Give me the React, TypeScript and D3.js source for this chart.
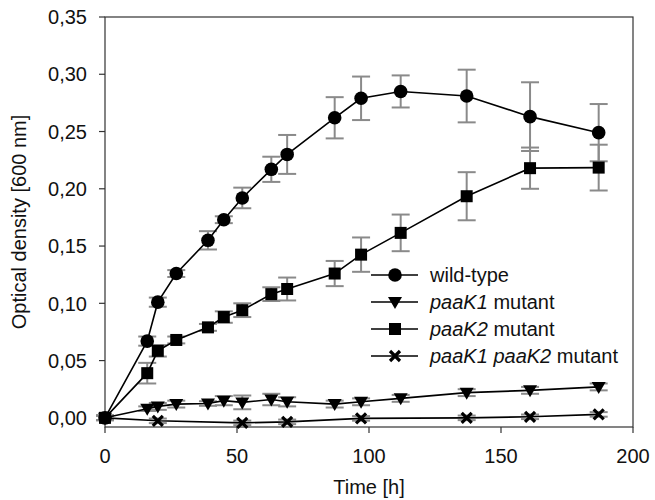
import React from 'react';
import * as d3 from 'd3';

// sampling times [h]
const times = [0, 16, 20, 27, 39, 45, 52, 63, 69, 87, 97, 112, 137, 161, 187];
const timesDouble = [0, 20, 52, 69, 97, 137, 161, 187];

const wildType = [0, 0.067, 0.101, 0.126, 0.155, 0.173, 0.192, 0.217, 0.230, 0.262, 0.279, 0.285, 0.281, 0.263, 0.249];
const wildTypeErr = [0.002, 0.004, 0.004, 0.003, 0.008, 0.003, 0.009, 0.011, 0.017, 0.018, 0.019, 0.014, 0.023, 0.030, 0.025];

const paaK1 = [0, 0.008, 0.010, 0.012, 0.0125, 0.015, 0.0135, 0.016, 0.014, 0.012, 0.014, 0.017, 0.022, 0.024, 0.027];
const paaK1Err = [0.002, 0.002, 0.003, 0.003, 0.002, 0.004, 0.006, 0.005, 0.004, 0.003, 0.003, 0.003, 0.003, 0.003, 0.003];

const paaK2 = [0, 0.039, 0.0585, 0.068, 0.079, 0.088, 0.094, 0.108, 0.1125, 0.126, 0.1425, 0.1615, 0.1935, 0.218, 0.2185];
const paaK2Err = [0.002, 0.009, 0.005, 0.003, 0.003, 0.005, 0.006, 0.006, 0.010, 0.011, 0.015, 0.016, 0.021, 0.018, 0.020];

const paaK1K2 = [0, -0.0026, -0.0044, -0.0035, -0.0005, 0.0, 0.0009, 0.003];
const paaK1K2Err = [0.002, 0.002, 0.002, 0.002, 0.002, 0.002, 0.002, 0.002];

const xTicks = [0, 50, 100, 150, 200];
const yTicks = [0, 0.05, 0.1, 0.15, 0.2, 0.25, 0.3, 0.35];

const FONT = 'Liberation Sans, Arial, sans-serif';
const GREY = '#8a8a8a';

const locale = d3.formatLocale({decimal: ',', thousands: '.', grouping: [3], currency: ['', '']});
const fmtY = locale.format('.2f');

function Marker({kind, x, y}: {kind: string; x: number; y: number}) {
  if (kind === 'circle') return <circle cx={x} cy={y} r={6.8} fill="#000" />;
  if (kind === 'square') return <rect x={x - 6} y={y - 6} width={12} height={12} fill="#000" />;
  if (kind === 'triangle')
    return <path d={`M${x - 7},${y - 5} L${x + 7},${y - 5} L${x},${y + 7} Z`} fill="#000" />;
  // cross
  return (
    <g stroke="#000" strokeWidth={3.2}>
      <line x1={x - 5} y1={y - 5} x2={x + 5} y2={y + 5} />
      <line x1={x - 5} y1={y + 5} x2={x + 5} y2={y - 5} />
    </g>
  );
}

export default function App() {
  const left = 105, right = 633, top = 17, bottom = 427;

  const x = d3.scaleLinear().domain([0, 200]).range([left, right]);
  const y = d3.scaleLinear().domain([-0.008, 0.35]).range([bottom, top]);

  const series = [
    {name: 'wild-type', kind: 'circle', t: times, v: wildType, e: wildTypeErr},
    {name: 'paaK1', kind: 'triangle', t: times, v: paaK1, e: paaK1Err},
    {name: 'paaK2', kind: 'square', t: times, v: paaK2, e: paaK2Err},
    {name: 'paaK1K2', kind: 'cross', t: timesDouble, v: paaK1K2, e: paaK1K2Err},
  ];

  const line = d3.line<number[]>().x(d => x(d[0])).y(d => y(d[1]));

  const legendRows = [
    {kind: 'circle', label: [{t: 'wild-type', i: false}]},
    {kind: 'triangle', label: [{t: 'paaK1', i: true}, {t: ' mutant', i: false}]},
    {kind: 'square', label: [{t: 'paaK2', i: true}, {t: ' mutant', i: false}]},
    {kind: 'cross', label: [{t: 'paaK1 paaK2', i: true}, {t: ' mutant', i: false}]},
  ];

  return (
    <div style={{position: 'absolute', left: 0, top: 0}}>
      <svg width={655} height={500} style={{display: 'block', background: '#fff'}} fontFamily={FONT}>
        {/* frame */}
        <g stroke="#333" strokeWidth={1.2} fill="none">
          <rect x={left} y={top} width={right - left} height={bottom - top} />
        </g>

        {/* y axis */}
        {yTicks.map(t => (
          <g key={'y' + t}>
            <line x1={left - 6} x2={left} y1={y(t)} y2={y(t)} stroke="#333" strokeWidth={1.2} />
            <text x={left - 18} y={y(t)} dy="0.36em" textAnchor="end" fontSize={20} fill="#111">
              {fmtY(t)}
            </text>
          </g>
        ))}
        <text transform={`translate(26,${(top + bottom) / 2}) rotate(-90)`} textAnchor="middle" fontSize={20} fill="#111">
          Optical density [600 nm]
        </text>

        {/* x axis */}
        {xTicks.map(t => (
          <g key={'x' + t}>
            <line x1={x(t)} x2={x(t)} y1={bottom} y2={bottom + 6} stroke="#333" strokeWidth={1.2} />
            <text x={x(t)} y={463} textAnchor="middle" fontSize={20} fill="#111">
              {t}
            </text>
          </g>
        ))}
        <text x={(left + right) / 2} y={494} textAnchor="middle" fontSize={20} fill="#111">
          Time [h]
        </text>

        {/* error bars */}
        {series.map(s => (
          <g key={'e' + s.name} stroke={GREY} strokeWidth={2}>
            {s.t.map((t, i) => (
              <g key={i}>
                <line x1={x(t)} x2={x(t)} y1={y(s.v[i] - s.e[i])} y2={y(s.v[i] + s.e[i])} />
                <line x1={x(t) - 9} x2={x(t) + 9} y1={y(s.v[i] - s.e[i])} y2={y(s.v[i] - s.e[i])} />
                <line x1={x(t) - 9} x2={x(t) + 9} y1={y(s.v[i] + s.e[i])} y2={y(s.v[i] + s.e[i])} />
              </g>
            ))}
          </g>
        ))}

        {/* lines + markers */}
        {series.map(s => (
          <g key={'s' + s.name}>
            <path d={line(s.t.map((t, i) => [t, s.v[i]])) || ''} fill="none" stroke="#000" strokeWidth={1.6} />
            {s.t.map((t, i) => (
              <Marker key={i} kind={s.kind} x={x(t)} y={y(s.v[i])} />
            ))}
          </g>
        ))}

        {/* legend */}
        {legendRows.map((r, i) => {
          const ly = 275 + i * 27;
          return (
            <g key={'l' + i}>
              <line x1={371} x2={418} y1={ly} y2={ly} stroke="#000" strokeWidth={1.6} />
              <Marker kind={r.kind} x={395} y={ly} />
              <text x={430} y={ly} dy="0.36em" fontSize={20} fill="#111">
                {r.label.map((p, j) => (
                  <tspan key={j} fontStyle={p.i ? 'italic' : 'normal'}>
                    {p.t}
                  </tspan>
                ))}
              </text>
            </g>
          );
        })}
      </svg>
    </div>
  );
}
